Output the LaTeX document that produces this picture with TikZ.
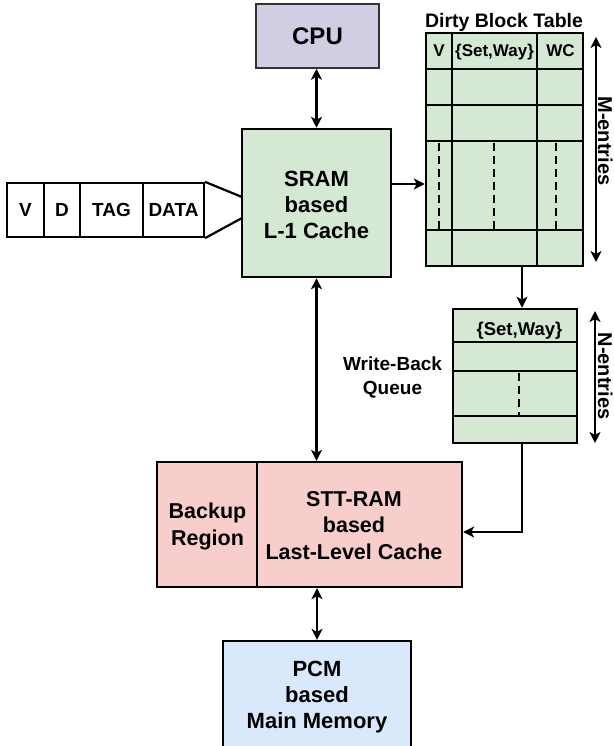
\documentclass[tikz,border=0pt]{standalone}
\usepackage{fontspec}
\setmainfont{Liberation Sans}
\usetikzlibrary{arrows.meta}
\definecolor{grn}{HTML}{D5E8D4}
\definecolor{prp}{HTML}{D0CEE2}
\definecolor{pnk}{HTML}{F8CECC}
\definecolor{blu}{HTML}{DAE8FC}
\tikzset{
  box/.style={draw=black, line width=2.5pt, rectangle, inner sep=0pt, align=center, font=\bfseries\fontsize{22}{26.5}\selectfont},
  cell/.style={draw=black, line width=2.2pt, rectangle, inner sep=0pt, fill=white, font=\bfseries\fontsize{19}{22}\selectfont},
  tline/.style={line width=2.5pt},
  dline/.style={line width=2.5pt, dash pattern=on 8pt off 5pt},
  arr/.style={line width=2.2pt, -{Stealth[length=11pt,width=11pt,inset=3pt]}},
  darr/.style={line width=2.2pt, {Stealth[length=11pt,width=11pt,inset=3pt]}-{Stealth[length=11pt,width=11pt,inset=3pt]}},
  lbl/.style={inner sep=0pt, align=center, font=\bfseries\fontsize{19}{24}\selectfont},
}
\begin{document}
\begin{tikzpicture}[x=1pt,y=-1pt]
\useasboundingbox (0,0) rectangle (613,746);
% CPU
\node[box, fill=prp, draw=black!80, line width=1.5pt, minimum width=123pt, minimum height=64pt, font=\bfseries\fontsize{24}{28}\selectfont] (cpu) at (317.5,36) {CPU};
% SRAM
\node[box, fill=grn, minimum width=149pt, minimum height=148pt] (sram) at (316.5,203) {};
\node[lbl, font=\bfseries\fontsize{22}{26}\selectfont] (sramt) at (316.5,205) {SRAM\\based\\L-1 Cache};
% tag row
\node[cell, minimum width=37pt, minimum height=54pt] (cv) at (25.5,210) {V};
\node[cell, minimum width=36pt, minimum height=54pt] (cd) at (62,210) {D};
\node[cell, minimum width=63pt, minimum height=54pt] (ctag) at (111.5,210) {TAG};
\node[cell, minimum width=61pt, minimum height=54pt] (cdata) at (173.5,210) {DATA};
\coordinate (tu) at (242,197);
\coordinate (tl) at (242,218);
\draw[line width=2.2pt, line join=miter] (tu) -- (cdata.north east) (cdata.south east) -- (tl);
% Dirty block table
\node[lbl, anchor=base, font=\bfseries\fontsize{19.5}{22}\selectfont] (dbtt) at (504,28) {Dirty Block Table};
\node[box, fill=grn, minimum width=157pt, minimum height=233pt] (dbt) at (504.5,149.5) {};
\coordinate (dc1) at (452,0);
\coordinate (dc2) at (537,0);
\foreach \yy in {69,105,141,230} \draw[tline] (dbt.west |- 0,\yy) -- (dbt.east |- 0,\yy);
\draw[tline] (dbt.north -| dc1) -- (dbt.south -| dc1);
\draw[tline] (dbt.north -| dc2) -- (dbt.south -| dc2);
\foreach \xx in {439,494,556} \draw[dline] (\xx,143) -- (\xx,229);
\node[lbl, anchor=base, font=\bfseries\fontsize{17}{20}\selectfont] (hv) at (439,57) {V};
\node[lbl, anchor=base, font=\bfseries\fontsize{17}{20}\selectfont] (hsw) at (494.5,57) {\{Set,Way\}};
\node[lbl, anchor=base, font=\bfseries\fontsize{17}{20}\selectfont] (hwc) at (560.5,57) {WC};
% M-entries
\coordinate (mt) at (596,37);
\coordinate (mb) at (596,262);
\draw[darr] (mt) -- (mb);
\node[lbl, anchor=base, rotate=-90, font=\bfseries\fontsize{20}{22}\selectfont] (ment) at (598,141) {M-entries};
% SRAM -> DBT
\coordinate (r1) at (0,184);
\draw[arr] (sram.east |- r1) -- (dbt.west |- r1);
% Write-back queue
\node[box, fill=grn, minimum width=124pt, minimum height=134pt] (wbq) at (515,376) {};
\foreach \yy in {342,371,416} \draw[tline] (wbq.west |- 0,\yy) -- (wbq.east |- 0,\yy);
\draw[dline] (519,373) -- (519,415);
\node[lbl, anchor=base, font=\bfseries\fontsize{18.5}{20}\selectfont] (wsw) at (519.5,335) {\{Set,Way\}};
\node[lbl] (wbl) at (392.5,377) {Write-Back\\Queue};
\coordinate (qx) at (522,0);
\draw[arr] (dbt.south -| qx) -- (wbq.north -| qx);
% N-entries
\coordinate (nt) at (595,311);
\coordinate (nb) at (595,443);
\draw[darr] (nt) -- (nb);
\node[lbl, anchor=base, rotate=-90, font=\bfseries\fontsize{20}{22}\selectfont] (nent) at (598,376) {N-entries};
% LLC
\node[box, fill=pnk, line width=2.3pt, minimum width=305pt, minimum height=125pt] (llc) at (309.5,524.5) {};
\coordinate (lc) at (257,0);
\draw[tline] (llc.north -| lc) -- (llc.south -| lc);
\node[lbl, font=\bfseries\fontsize{21.5}{27}\selectfont] (bkp) at (207.5,526) {Backup\\Region};
\node[lbl, font=\bfseries\fontsize{21.5}{26.7}\selectfont] (stt) at (354,525.5) {STT-RAM\\based\\Last-Level Cache};
\coordinate (wy) at (0,532);
\draw[arr] (wbq.south -| qx) |- (llc.east |- wy);
% PCM
\node[box, fill=blu, line width=2.3pt, minimum width=188pt, minimum height=112pt] (pcm) at (317,697) {};
\node[lbl, font=\bfseries\fontsize{22}{26}\selectfont] (pcmt) at (317,697) {PCM\\based\\Main Memory};
% vertical arrows
\draw[darr] (cpu.south -| sram.north) -- (sram.north);
\draw[darr] (sram.south) -- (sram.south |- llc.north);
\draw[darr] (pcm.north |- llc.south) -- (pcm.north);
\end{tikzpicture}
\end{document}
